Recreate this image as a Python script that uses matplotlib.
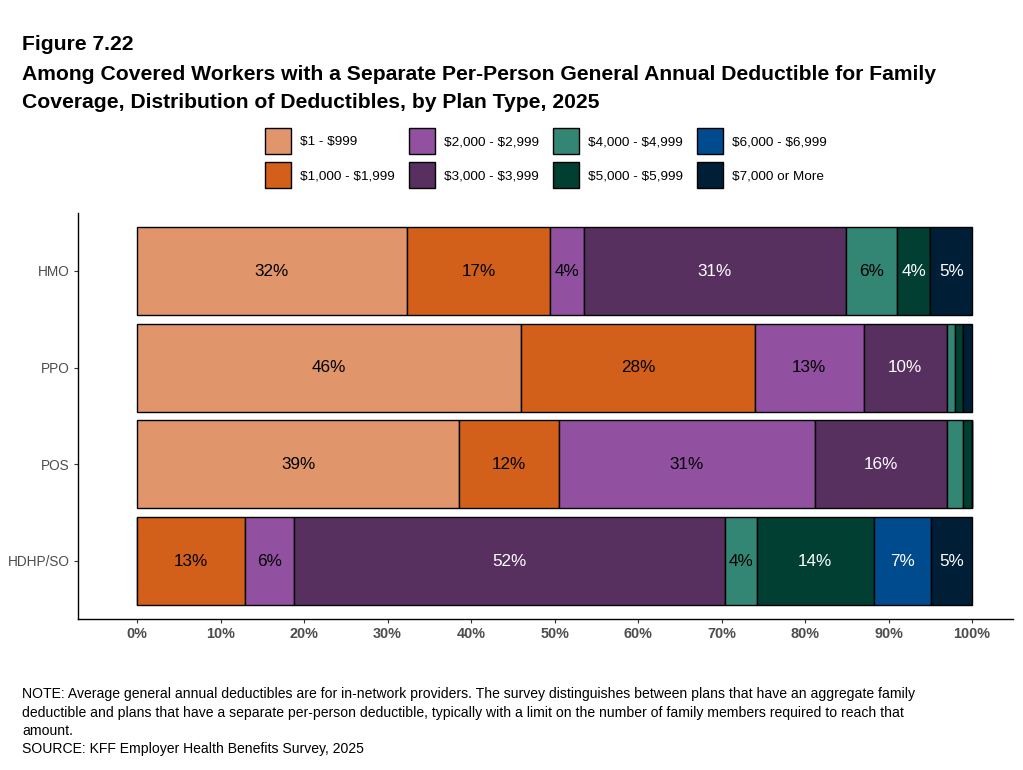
import matplotlib.pyplot as plt
import numpy as np

plt.rcParams['font.family'] = ['Liberation Sans', 'DejaVu Sans']

plan_types = ['HMO', 'PPO', 'POS', 'HDHP/SO']
deductible_ranges = [r'\$1 - \$999', r'\$1,000 - \$1,999', r'\$2,000 - \$2,999', r'\$3,000 - \$3,999',
                     r'\$4,000 - \$4,999', r'\$5,000 - \$5,999', r'\$6,000 - \$6,999', r'\$7,000 or More']
colors = ['#E0956A', '#D2601A', '#9150A0', '#58305F', '#338673', '#003F32', '#004B8D', '#001E35']
label_colors = ['black', 'black', 'black', 'white', 'black', 'white', 'white', 'white']

# share of workers per range, one list per plan type
hmo = [32.3, 17.2, 4.0, 31.4, 6.1, 4.0, 0.0, 5.0]
ppo = [46.0, 28.0, 13.0, 10.0, 1.0, 0.9, 0.0, 1.1]
pos = [38.6, 11.9, 30.7, 15.8, 1.9, 1.1, 0.0, 0.0]
hdhp = [0.0, 12.9, 5.9, 51.6, 3.8, 14.0, 6.9, 4.9]

data = np.array([hmo, ppo, pos, hdhp])
y = np.arange(len(plan_types))

fig = plt.figure(figsize=(10.23, 7.70), dpi=100)
ax = fig.add_axes([78 / 1023, 1 - 619 / 770, 935 / 1023, 406 / 770])

left = np.zeros(len(plan_types))
for j, name in enumerate(deductible_ranges):
    vals = data[:, j]
    ax.barh(y, vals, left=left, height=0.91, color=colors[j], edgecolor='black',
            linewidth=1.0, label=name)
    for i, v in enumerate(vals):
        if v >= 3.5:
            ax.text(left[i] + v / 2, y[i], '{:.0f}%'.format(v), ha='center', va='center',
                    fontsize=12.3, color=label_colors[j])
    left += vals

ax.set_xlim(-7.07, 104.9)
ax.set_ylim(3.6, -0.6)
ax.set_yticks(y)
ax.set_yticklabels(plan_types, fontsize=9.8, color='#4D4D4D')
ax.set_xticks(np.arange(0, 101, 10))
ax.set_xticklabels(['{}%'.format(t) for t in range(0, 101, 10)], fontsize=10.4,
                   color='#4D4D4D', fontweight='bold')
ax.tick_params(axis='both', length=3, color='#333333', pad=3)
for s in ['top', 'right']:
    ax.spines[s].set_visible(False)
ax.spines['left'].set_linewidth(1.0)
ax.spines['bottom'].set_linewidth(1.0)

handles, labels = ax.get_legend_handles_labels()
fig.legend(handles, labels, ncol=4, loc='upper left', bbox_to_anchor=(265 / 1023, 1 - 128 / 770),
           frameon=False, fontsize=9.7, handlelength=1.94, handleheight=2.6,
           columnspacing=1.04, labelspacing=0.6, handletextpad=0.67,
           borderpad=0, borderaxespad=0)

fig.text(22 / 1023, 1 - 44 / 770, 'Figure 7.22', fontsize=15.2, fontweight='bold', va='center')
fig.text(22 / 1023, 1 - 74 / 770,
         'Among Covered Workers with a Separate Per-Person General Annual Deductible for Family',
         fontsize=15.2, fontweight='bold', va='center')
fig.text(22 / 1023, 1 - 103 / 770, 'Coverage, Distribution of Deductibles, by Plan Type, 2025',
         fontsize=15.2, fontweight='bold', va='center')

notes = ['NOTE: Average general annual deductibles are for in-network providers. The survey distinguishes between plans that have an aggregate family',
         'deductible and plans that have a separate per-person deductible, typically with a limit on the number of family members required to reach that',
         'amount.',
         'SOURCE: KFF Employer Health Benefits Survey, 2025']
for k, line in enumerate(notes):
    fig.text(22 / 1023, 1 - (694 + 18.5 * k) / 770, line, fontsize=10.1, va='center')

fig.savefig('out.png', dpi=100)
